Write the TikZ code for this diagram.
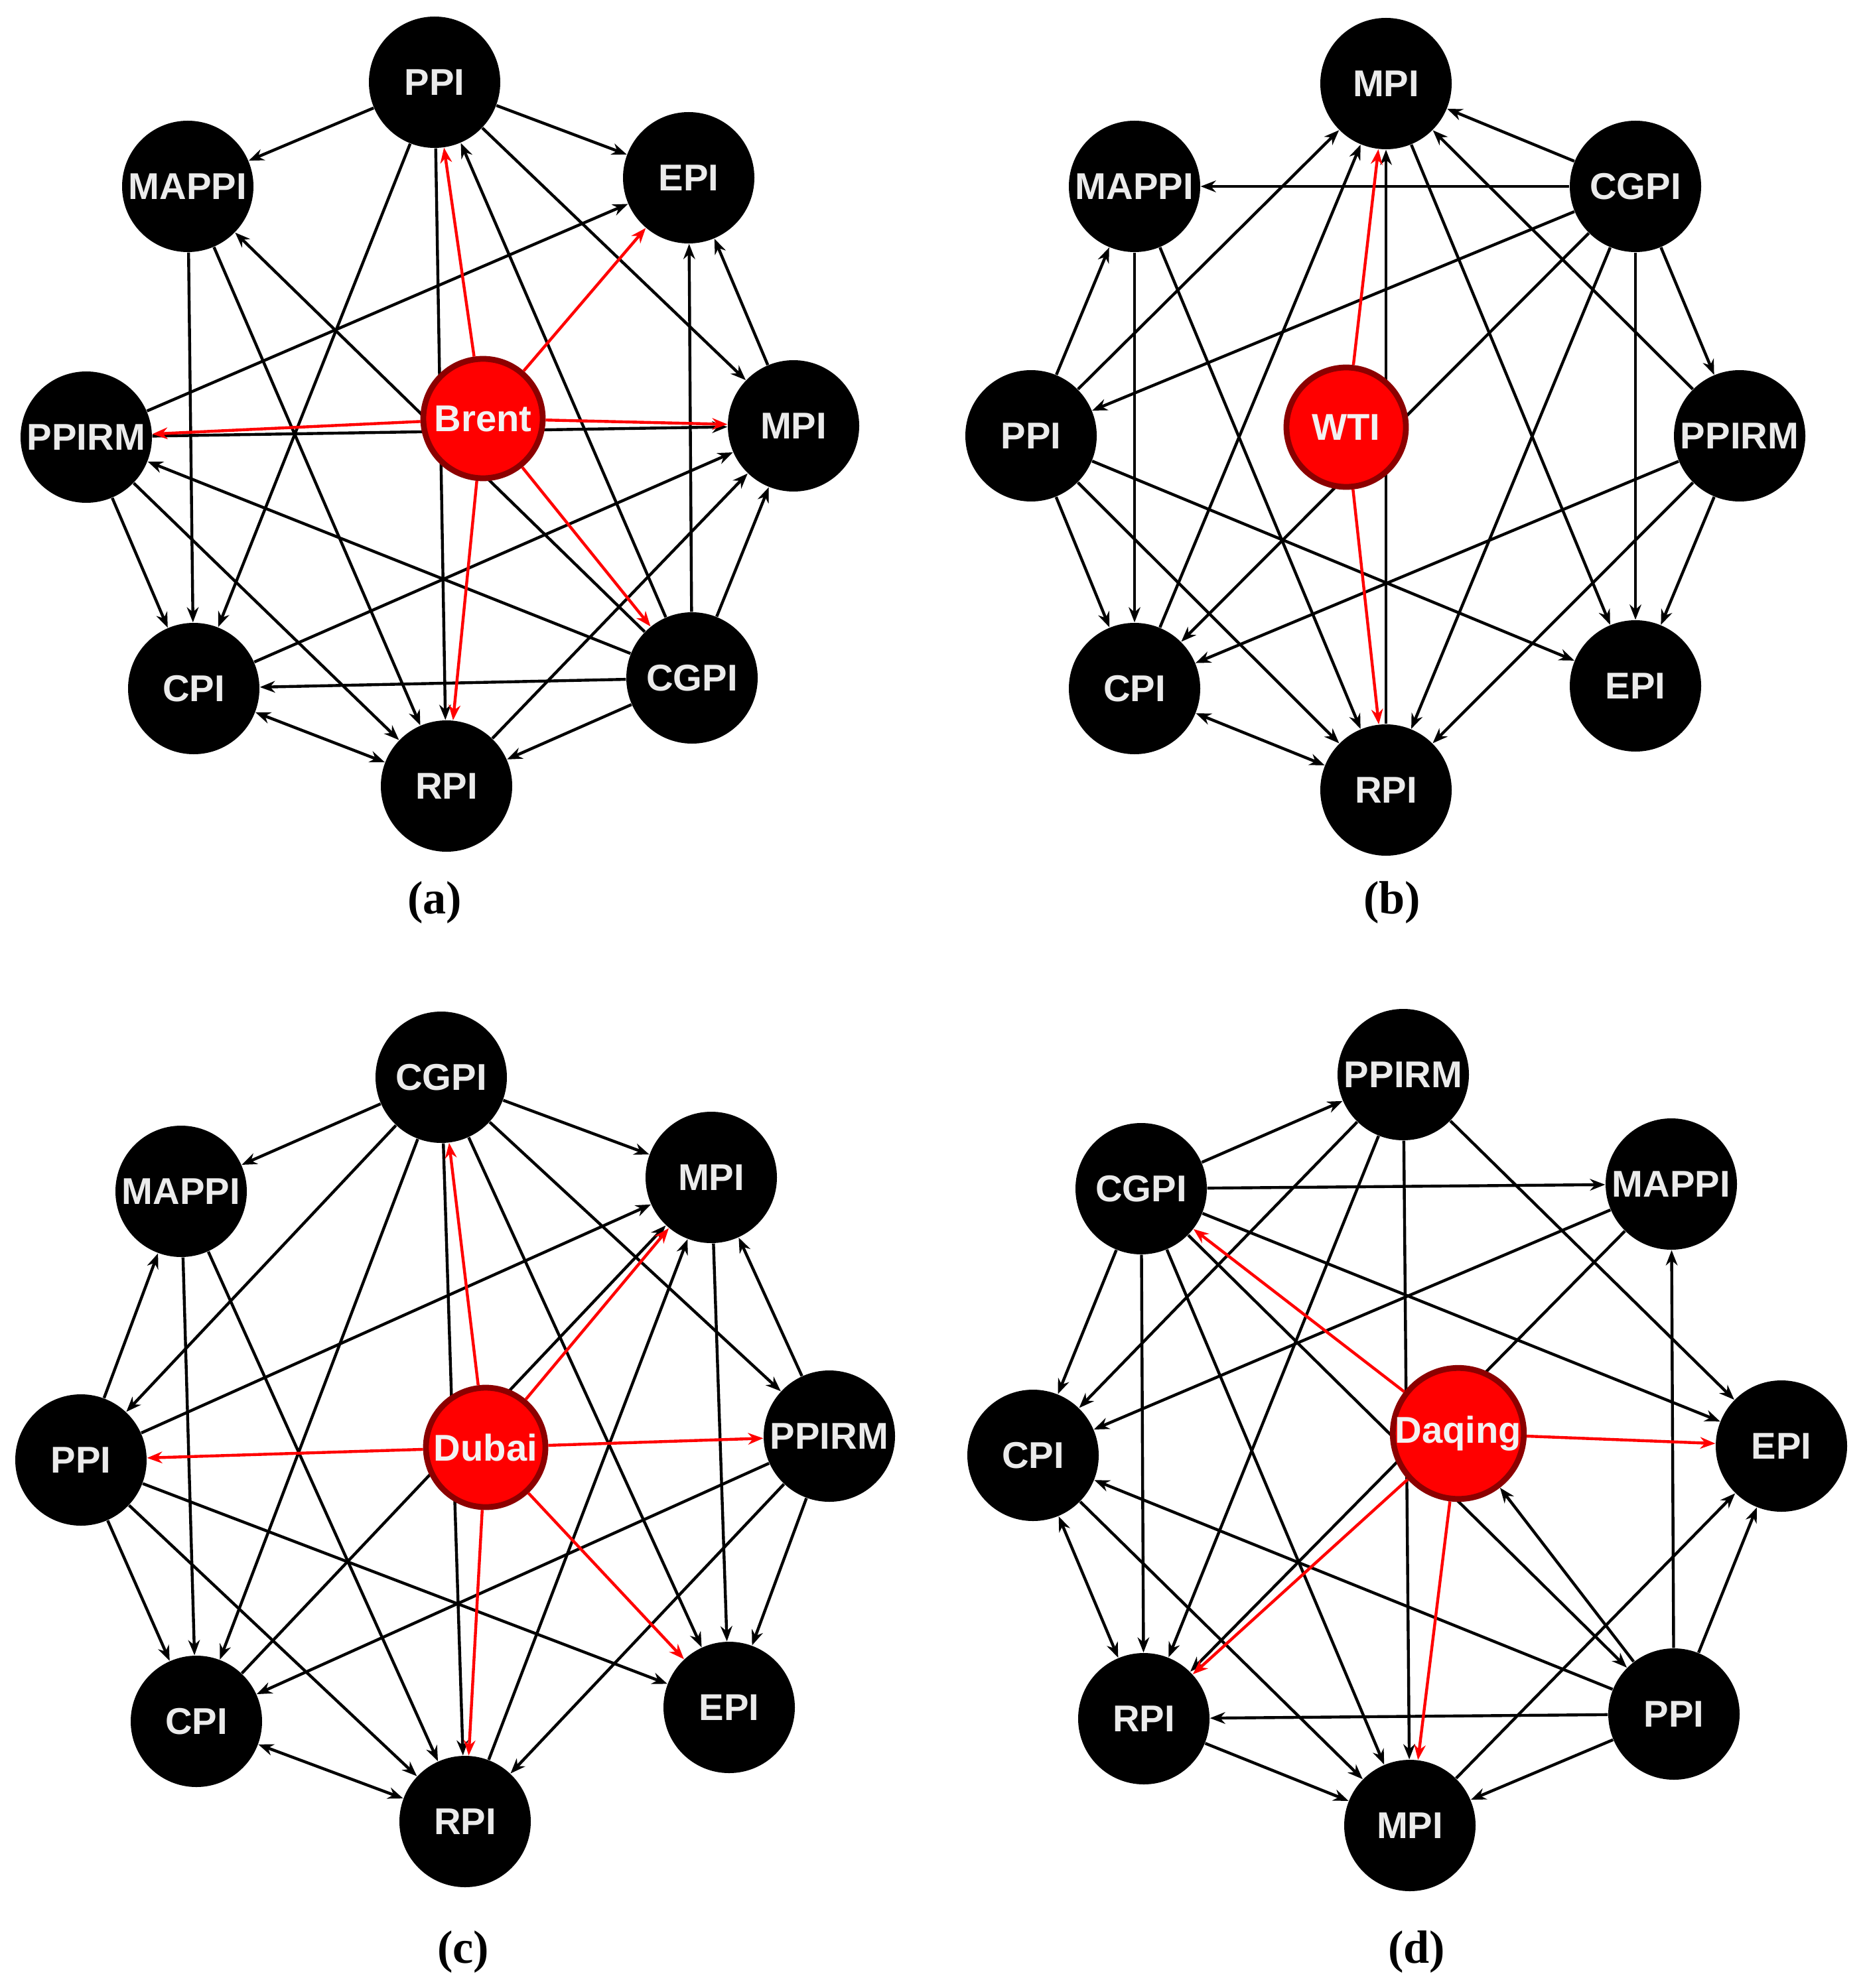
\documentclass[tikz,border=0pt]{standalone}
\usepackage{fontspec}
\setmainfont{Liberation Serif}
\newfontfamily\nodefont{Liberation Sans}
\usetikzlibrary{arrows.meta}

\begin{document}
\begin{tikzpicture}[
    idx/.style={circle, fill=black, minimum size=1.98cm, inner sep=0pt,
        text=black!8, font=\nodefont\fontsize{16}{18}\selectfont\bfseries},
    oil/.style={circle, fill=red, draw=red!55!black, line width=2.5pt,
        minimum size=1.8cm, inner sep=0pt,
        text=black!5, font=\nodefont\fontsize{16}{18}\selectfont\bfseries},
    edge/.style={-{Stealth[length=6.5pt,width=5pt]}, line width=1.25pt, black},
    both/.style={{Stealth[length=6.5pt,width=5pt]}-{Stealth[length=6.5pt,width=5pt]}, line width=1.25pt, black},
    hit/.style={-{Stealth[length=6.5pt,width=5pt]}, line width=1.25pt, red},
    panel/.style={font=\fontsize{20}{24}\selectfont\bfseries}
]
    \useasboundingbox (0,0) rectangle (28.1,-29.97);

    % (a) Brent
    \node[idx] (aPPI)   at (6.55,-1.24)  {PPI};
    \node[idx] (aMAPPI) at (2.83,-2.81)  {MAPPI};
    \node[idx] (aEPI)   at (10.38,-2.68) {EPI};
    \node[idx] (aPPIRM) at (1.30,-6.59)  {PPIRM};
    \node[idx] (aMPI)   at (11.96,-6.42) {MPI};
    \node[idx] (aCPI)   at (2.92,-10.38) {CPI};
    \node[idx] (aCGPI)  at (10.43,-10.22){CGPI};
    \node[idx] (aRPI)   at (6.73,-11.85) {RPI};
    \foreach \s/\t in {PPI/MAPPI, PPI/EPI, PPI/MPI, PPI/CPI, PPI/RPI, CGPI/PPI,
        CGPI/MAPPI, PPIRM/EPI, MAPPI/CPI, MAPPI/RPI, PPIRM/CPI, PPIRM/RPI,
        CGPI/PPIRM, PPIRM/MPI, CPI/MPI, RPI/MPI, CGPI/MPI, MPI/EPI, CGPI/EPI,
        CGPI/CPI, CGPI/RPI}
        \draw[edge] (a\s) -- (a\t);
    \draw[both] (aCPI) -- (aRPI);
    \node[oil] (Brent) at (7.28,-6.31) {Brent};
    \foreach \t in {PPI, EPI, PPIRM, MPI, CGPI, RPI}
        \draw[hit] (Brent) -- (a\t);
    \node[panel] (capA) at (6.55,-13.61) {(a)};

    % (b) WTI
    \node[idx] (bMPI)   at (20.89,-1.26) {MPI};
    \node[idx] (bMAPPI) at (17.10,-2.81) {MAPPI};
    \node[idx] (bCGPI)  at (24.65,-2.81) {CGPI};
    \node[idx] (bPPI)   at (15.54,-6.57) {PPI};
    \node[idx] (bPPIRM) at (26.22,-6.57) {PPIRM};
    \node[idx] (bCPI)   at (17.10,-10.38){CPI};
    \node[idx] (bEPI)   at (24.65,-10.34){EPI};
    \node[idx] (bRPI)   at (20.89,-11.91){RPI};
    \foreach \s/\t in {CGPI/MPI, CGPI/MAPPI, CGPI/PPI, CGPI/CPI, CGPI/RPI,
        CGPI/EPI, CGPI/PPIRM, PPIRM/MPI, MPI/EPI, PPIRM/EPI, PPIRM/CPI,
        PPIRM/RPI, RPI/MPI, PPI/MAPPI, PPI/MPI, CPI/MPI, MAPPI/CPI, MAPPI/RPI,
        PPI/CPI, PPI/RPI, PPI/EPI}
        \draw[edge] (b\s) -- (b\t);
    \draw[both] (bCPI) -- (bRPI);
    \node[oil] (WTI) at (20.29,-6.44) {WTI};
    \foreach \t in {MPI, RPI}
        \draw[hit] (WTI) -- (b\t);
    \node[panel] (capB) at (20.98,-13.61) {(b)};

    % (c) Dubai
    \node[idx] (cCGPI)  at (6.65,-16.24) {CGPI};
    \node[idx] (cMAPPI) at (2.73,-17.96) {MAPPI};
    \node[idx] (cMPI)   at (10.72,-17.75){MPI};
    \node[idx] (cPPI)   at (1.22,-22.01) {PPI};
    \node[idx] (cPPIRM) at (12.50,-21.65){PPIRM};
    \node[idx] (cCPI)   at (2.96,-25.95) {CPI};
    \node[idx] (cEPI)   at (10.99,-25.74){EPI};
    \node[idx] (cRPI)   at (7.01,-27.46) {RPI};
    \foreach \s/\t in {CGPI/MAPPI, CGPI/MPI, CGPI/PPI, CGPI/CPI, CGPI/RPI,
        CGPI/EPI, CGPI/PPIRM, PPI/MAPPI, PPI/MPI, MAPPI/CPI, MAPPI/RPI,
        PPI/CPI, PPI/RPI, PPI/EPI, MPI/EPI, PPIRM/MPI, PPIRM/EPI, PPIRM/CPI,
        PPIRM/RPI, CPI/MPI, RPI/MPI}
        \draw[edge] (c\s) -- (c\t);
    \draw[both] (cCPI) -- (cRPI);
    \node[oil] (Dubai) at (7.32,-21.82) {Dubai};
    \foreach \t in {CGPI, MPI, PPI, PPIRM, EPI, RPI}
        \draw[hit] (Dubai) -- (c\t);
    \node[panel] (capC) at (6.98,-29.43) {(c)};

    % (d) Daqing
    \node[idx] (dPPIRM) at (21.15,-16.20){PPIRM};
    \node[idx] (dCGPI)  at (17.20,-17.92){CGPI};
    \node[idx] (dMAPPI) at (25.19,-17.85){MAPPI};
    \node[idx] (dCPI)   at (15.57,-21.94){CPI};
    \node[idx] (dEPI)   at (26.85,-21.80){EPI};
    \node[idx] (dRPI)   at (17.24,-25.91){RPI};
    \node[idx] (dPPI)   at (25.23,-25.84){PPI};
    \node[idx] (dMPI)   at (21.25,-27.52){MPI};
    \foreach \s/\t in {CGPI/PPIRM, CGPI/MAPPI, CGPI/CPI, CGPI/RPI, CGPI/MPI,
        CGPI/EPI, CGPI/PPI, PPIRM/CPI, PPIRM/RPI, PPIRM/MPI, PPIRM/EPI,
        MAPPI/CPI, MAPPI/RPI, PPI/MAPPI, PPI/CPI, PPI/RPI, PPI/MPI, PPI/EPI,
        MPI/EPI, CPI/MPI, RPI/MPI}
        \draw[edge] (d\s) -- (d\t);
    \draw[both] (dCPI) -- (dRPI);
    \node[oil] (Daqing) at (21.98,-21.61){Daqing};
    \draw[edge] (dPPI) -- (Daqing);
    \foreach \t in {CGPI, EPI, RPI, MPI}
        \draw[hit] (Daqing) -- (d\t);
    \node[panel] (capD) at (21.35,-29.43) {(d)};
\end{tikzpicture}
\end{document}
